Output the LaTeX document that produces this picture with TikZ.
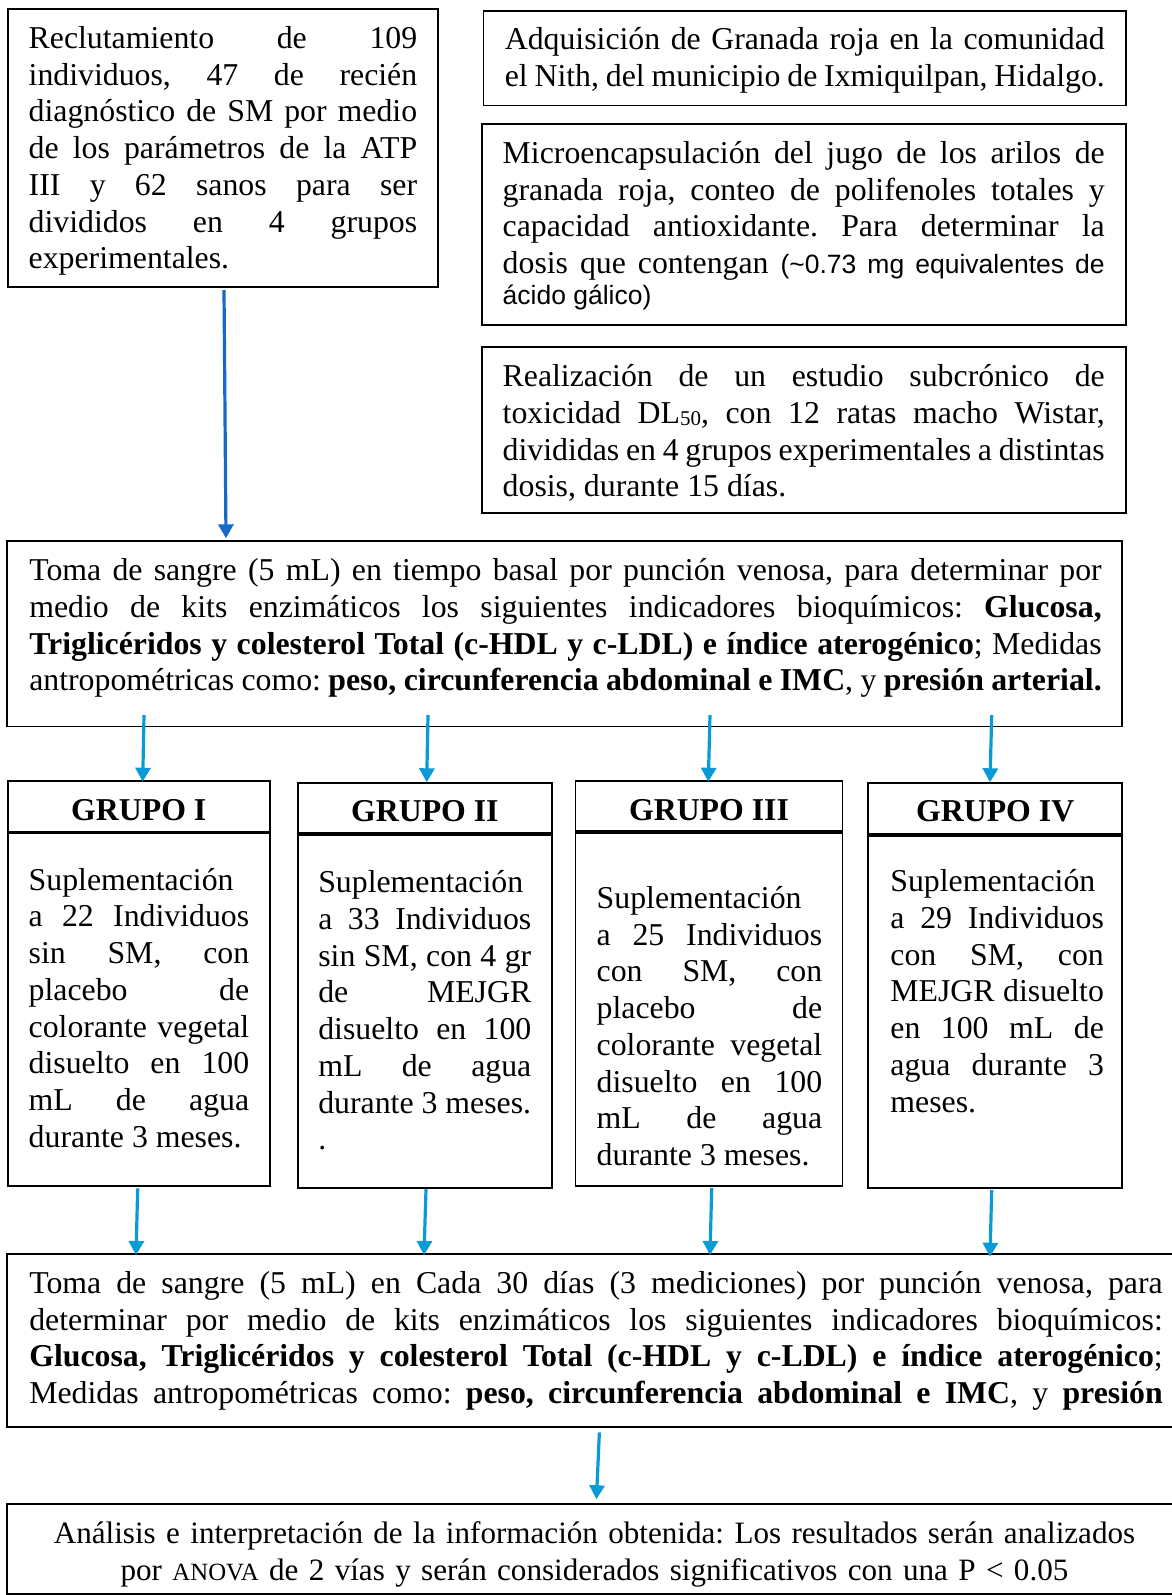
\documentclass[tikz,border=0pt]{standalone}
\usepackage{fontspec}
\setmainfont{Liberation Serif}
\newfontfamily\arialfont{Liberation Sans}
\usetikzlibrary{arrows.meta,calc,fit}
\definecolor{arrowA}{RGB}{23,105,200}
\definecolor{arrowB}{RGB}{10,155,215}
\newcommand{\bodyfont}{\fontsize{31.8}{36.75}\selectfont\frenchspacing\tolerance=10000\hyphenpenalty=10000\exhyphenpenalty=10000}
\newcommand{\smallsans}{\arialfont\fontsize{26.5}{30.7}\selectfont}
\newcommand{\fullend}{\parfillskip=0pt\par}
\begin{document}
\begin{tikzpicture}[x=1pt,y=-1pt,
  box/.style={draw=black,line width=1.8pt,inner sep=0pt,outer sep=0pt},
  txt/.style={inner sep=0pt,outer sep=0pt,align=justify,anchor=base west,font=\bodyfont},
  ctr/.style={inner sep=0pt,outer sep=0pt,align=center,anchor=base,font=\fontsize{31.1}{36.7}\selectfont\frenchspacing},
  hdr/.style={inner sep=0pt,outer sep=0pt,anchor=base,font=\bodyfont\bfseries},
  arrA/.style={draw=arrowA,line width=3.2pt,-{Triangle[width=15pt,length=14pt]}},
  arrB/.style={draw=arrowB,line width=3.2pt,-{Triangle[width=15pt,length=14pt]}}]
\useasboundingbox (0,0) rectangle (1172,1595);
\clip (0,0) rectangle (1172,1595);

% top left
\node[box,fit={(7.7,9.3)(438.2,286.7)}] (A) {};
\node[txt,text width=388.5pt] (At) at (28.7,48.3) {Reclutamiento de 109\linebreak individuos, 47 de recién\linebreak diagnóstico de SM por medio\linebreak de los parámetros de la ATP\linebreak III y 62 sanos para ser\linebreak divididos en 4 grupos\linebreak experimentales.};

% top right
\node[box,fit={(483.4,10.7)(1125.8,105.5)}] (B) {};
\node[txt,text width=600pt] (Bt) at (504.8,50) {Adquisición de Granada roja en la comunidad\linebreak el Nith, del municipio de Ixmiquilpan, Hidalgo.\fullend};

\node[box,fit={(481.7,124)(1125.8,325.3)}] (C) {};
\node[txt,text width=602pt] (Ct) at (502.7,163.3) {Microencapsulación del jugo de los arilos de\linebreak granada roja, conteo de polifenoles totales y\linebreak capacidad antioxidante. Para determinar la\linebreak dosis que contengan {\smallsans(\textasciitilde0.73 mg equivalentes de}\fullend\parfillskip=0pt plus 1fil {\smallsans ácido gálico)\par}};

\node[box,fit={(481.7,347.3)(1125.8,512.7)}] (D) {};
\node[txt,text width=602pt] (Dt) at (502.7,386.7) {Realización de un estudio subcrónico de\linebreak toxicidad DL\raisebox{-2.5pt}{\fontsize{21}{21}\selectfont 50}, con 12 ratas macho Wistar,\linebreak divididas en 4 grupos experimentales a distintas\linebreak dosis, durante 15 días.};

% basal sampling
\node[box,fit={(7.3,540.7)(1122.3,726.5)}] (E) {};
\node[txt,text width=1072.4pt] (Et) at (29.3,580.7) {Toma de sangre (5 mL) en tiempo basal por punción venosa, para determinar por\linebreak medio de kits enzimáticos los siguientes indicadores bioquímicos: \textbf{Glucosa,}\linebreak \textbf{Triglicéridos y colesterol Total (c-HDL y c-LDL) e índice aterogénico}; Medidas\linebreak antropométricas como: \textbf{peso, circunferencia abdominal e IMC}, y \textbf{presión arterial.}\fullend};

% groups
\node[box,fit={(7.7,781)(269.8,831.7)}] (G1h) {};
\node[box,fit={(7.7,833.5)(269.8,1186)}] (G1) {};
\node[hdr] (G1l) at (138.75,820) {GRUPO I};
\node[txt,text width=220.5pt] (G1t) at (28.7,890) {Suplementación\linebreak a 22 Individuos\linebreak sin SM, con\linebreak placebo de\linebreak colorante vegetal\linebreak disuelto en 100\linebreak mL de agua\linebreak durante 3 meses.};

\node[box,fit={(297.7,783)(552,833.3)}] (G2h) {};
\node[box,fit={(297.7,835.3)(552,1187.7)}] (G2) {};
\node[hdr] (G2l) at (424.85,821.7) {GRUPO II};
\node[txt,text width=213pt] (G2t) at (318.3,892.7) {Suplementación\linebreak a 33 Individuos\linebreak sin SM, con 4 gr\linebreak de MEJGR\linebreak disuelto en 100\linebreak mL de agua\linebreak durante 3 meses.\par .};

\node[box,fit={(575.5,780.7)(842.5,831)}] (G3h) {};
\node[box,fit={(575.5,833)(842.5,1186)}] (G3) {};
\node[hdr] (G3l) at (709,820) {GRUPO III};
\node[txt,text width=225.5pt] (G3t) at (596.7,908.3) {Suplementación\linebreak a 25 Individuos\linebreak con SM, con\linebreak placebo de\linebreak colorante vegetal\linebreak disuelto en 100\linebreak mL de agua\linebreak durante 3 meses.};

\node[box,fit={(868,783)(1122.3,834)}] (G4h) {};
\node[box,fit={(868,836)(1122.3,1187.7)}] (G4) {};
\node[hdr] (G4l) at (995.2,821.7) {GRUPO IV};
\node[txt,text width=213.5pt] (G4t) at (890.4,891.7) {Suplementación\linebreak a 29 Individuos\linebreak con SM, con\linebreak MEJGR disuelto\linebreak en 100 mL de\linebreak agua durante 3\linebreak meses.};

% follow-up sampling
\node[box,fit={(7.3,1254.3)(1190,1427.3)}] (F) {};
\node[txt,text width=1133.4pt] (Ft) at (29.3,1293.3) {Toma de sangre (5 mL) en Cada 30 días (3 mediciones) por punción venosa, para\linebreak determinar por medio de kits enzimáticos los siguientes indicadores bioquímicos:\linebreak \textbf{Glucosa, Triglicéridos y colesterol Total (c-HDL y c-LDL) e índice aterogénico};\linebreak Medidas antropométricas como: \textbf{peso, circunferencia abdominal e IMC}, y \textbf{presión}\fullend};

% analysis
\node[box,fit={(7.3,1504)(1182,1594.3)}] (G) {};
\node[ctr,text width=1150pt] (Gt) at (594.5,1543.3) {Análisis e interpretación de la información obtenida: Los resultados serán analizados\\ por {\fontsize{24.8}{36.7}\selectfont ANOVA} de 2 vías y serán considerados significativos con una P < 0.05};

% connectors
\draw[arrA] ($(A.south west)+(216.3,3.3)$) -- ($(E.north west)+(218.7,-2.4)$);
\draw[arrB] ($(E.south west)+(136.7,-11.5)$) -- ($(G1h.north west)+(135,0.7)$);
\draw[arrB] ($(E.south west)+(420.7,-11.5)$) -- ($(G2h.north west)+(129,-0.7)$);
\draw[arrB] ($(E.south west)+(702.7,-11.5)$) -- ($(G3h.north west)+(132.8,1)$);
\draw[arrB] ($(E.south west)+(984.4,-11.5)$) -- ($(G4h.north west)+(122,-0.7)$);
\draw[arrB] ($(G1.south west)+(130,2.3)$) -- ($(F.north west)+(128.7,0.7)$);
\draw[arrB] ($(G2.south west)+(128.3,1.5)$) -- ($(F.north west)+(416.7,0.7)$);
\draw[arrB] ($(G3.south west)+(136.2,2)$) -- ($(F.north west)+(702.7,0.7)$);
\draw[arrB] ($(G4.south west)+(123.7,2.3)$) -- ($(F.north west)+(982.7,2.4)$);
\draw[arrB] ($(F.south west)+(592.1,5)$) -- ($(G.north west)+(589.1,-4.7)$);
\end{tikzpicture}
\end{document}
